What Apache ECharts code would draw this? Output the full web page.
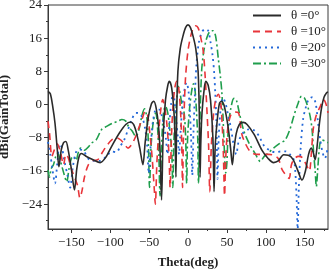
<!DOCTYPE html>
<html>
<head>
    <meta charset="UTF-8">
    <script type="text/javascript" src="https://cdn.jsdelivr.net/npm/echarts@6/dist/echarts.min.js"></script>
    <title>Gain pattern</title>
    <style>
        html, body { margin: 0; padding: 0; background: #fff; }
        #chart { width: 330px; height: 271px; }
    </style>
</head>
<body>
    <div id="chart"></div>
    <script type="text/javascript">
    // theta = 0 deg
    var theta0 = [-180,-177,-174,-171,-168,-166,-163,-160,-157,-154,-150,-146,-143,-140,-137,-130,-122,-113,-106,-98,-88,-80,-74,-70,-66,-62,-58,-55,-51,-47,-44,-41,-38,-36,-34,-32,-29,-26,-24,-21,-18,-16.5,-15.5,-14.5,-13,-10,-6.5,-3,0,3,6.5,10,13,14.5,15.5,16.5,18,21,23,26,29,32,33.5,35,38,40.5,43,46,49,52,55,57,59,62,66,71,76,85,95,103,110,116,123,129,135,141,146.5,151,155,158.5,161,163.5,166,169,172,175,178,180];
    var gain0 = [3.2,2.6,-0.4,-4.5,-11,-15,-11,-9.2,-8.9,-11,-15.5,-20.6,-15.5,-12.5,-11.8,-12.6,-13.3,-14,-12.8,-10,-6.8,-4.8,-4.2,-4.8,-7,-10.5,-14.5,-9,-3,0.2,0.8,-0.8,-5,-11,-23,-8,1,4.6,5.6,4,-2,-9,-17.5,-2,8,13.5,16.5,18.6,19.2,18.6,16.5,13.5,8,-2,-17.5,-9,-2,4,5.6,4.6,1,-8,-21,-10,-3,0.3,0.8,0,-2.5,-6,-11,-14.5,-11,-7,-4.8,-4.3,-4.8,-7.2,-11,-13,-14,-13.6,-12.1,-12.2,-13.2,-15.8,-18.2,-16,-12,-10.5,-11.5,-13.3,-10,-4.5,-0.5,1.8,2.8,3];

    // theta = 10 deg
    var theta10 = [-180,-178,-175,-172,-168,-164,-160,-157,-154,-150,-146,-142,-139,-136.5,-133,-128,-122,-116,-110,-104,-98,-92,-86,-81,-77,-73,-68,-63,-59,-55,-52,-49,-46,-43.5,-42,-40,-37,-34.5,-32.5,-30,-27,-24.5,-23,-21.5,-19.5,-17,-14.5,-12,-9.5,-8,-7,-6,-4.5,-3,0,3.5,7,10,13,16,19.5,22,24.5,26.5,28,30,33,36,39,42,44,45.5,47,48.5,51,55,60,65,69,74,80,88,96,104,110,116,121,126,130,133,137,142,147,152,156,158.5,161,165,170,174,177,180];
    var gain10 = [-4,-7,-12.5,-11,-9.5,-11.5,-14.5,-12,-12.8,-15.5,-17.5,-19.5,-22.5,-21,-17.4,-14.5,-13.5,-13.3,-11.5,-9.8,-8.5,-8,-8.6,-9.8,-10.5,-9.8,-8,-5.5,-3.5,-1.6,-2.5,-7,-13,-20,-24,-14,-5,-0.5,1.2,-0.5,-5,-12,-20,-9,-1,4,5.6,4,-2,-10,-20,-9,1,7,13,16.5,18.6,19,18.5,16.5,13,7,-2,-10,-21,-10,-2,1.5,2.5,0.5,-5,-12,-22,-13,-6,-2.5,-1.8,-2,-7,-9.5,-11.3,-12,-12,-12,-12.2,-13,-15.7,-17,-17.8,-14.5,-13,-12.5,-12.8,-14.5,-16,-12,-6,-2.5,-0.5,1.2,0.4,-2];

    // theta = 20 deg
    var theta20 = [-180,-177,-174,-171,-168,-165,-162,-159,-155,-151.5,-148,-144,-140,-134,-127,-120,-113,-105,-98,-92,-87,-82,-77,-72,-67,-62,-58,-55,-52.5,-50.5,-48,-45,-41,-37,-34,-31,-28.5,-26.5,-24,-21.5,-19,-17,-15,-13,-11.5,-10,-7.5,-5,-2,0.5,2.5,4,5.5,7,9,11,14,18,22,26,29,31.5,33.5,35,36.5,38,39.5,42,45,48,51,55,59,62,65,70,78,85,91,98,105,112,120,126,131,135,137.5,139.5,141,142.5,145,148,151,155,160,164,167,170,173,176,178,180];
    var gain20 = [-9,-12,-16,-19,-14,-9.5,-10.5,-13.5,-17,-20,-15,-11.5,-10.8,-11.3,-13.3,-13.6,-13.6,-12.5,-11.3,-11.5,-10,-8.5,-6,-3.5,-2,-2.2,-3.5,-6,-10,-16.6,-10,-4,-1.2,-1.2,-2.5,-5,-8,-12,-5,0.5,2.8,0.5,-4,-8,-12,-7.8,-1,3,5.3,3.5,-2,-8,-17,-7,3,10,15,17.5,18.2,17.8,15,12,8,3,-4,-18,-8,-1,1.6,0.5,-2,-5.5,-10,-12,-9,-7,-6,-6.2,-7.5,-10,-11,-11.5,-11.3,-11.3,-12,-12.8,-15,-22,-30,-20,-10,-3.5,-1,1.2,1.8,0.4,-4,-8.5,-11.5,-13,-12,-10];

    // theta = 30 deg
    var theta30 = [-180,-178,-176,-173,-170,-167.5,-165,-162,-159,-156,-153,-150,-147,-144,-141,-138,-133,-128,-124,-118,-111,-104,-97,-90,-85,-80,-76,-72,-67,-63,-59,-56,-53,-51,-49.5,-47.5,-44.5,-41.5,-39,-37.5,-36,-34,-31.5,-29,-26,-23.5,-21,-19.5,-18,-15,-12.5,-10,-7.5,-5,-3,-1.7,-0.5,2,4.5,7,9,11,12.5,13.5,15,17.5,20,24,28,32,35.5,39,41.5,43.5,45,46.5,48.5,50,52,55,59,62,66,72,79,86,93,98,103,110,117,125,131,136,141,146,150,154,157,159.5,161.5,163.5,165,167,169.5,172,176,180];
    var gain30 = [-15.8,-17.5,-15.5,-14.5,-12.5,-11.7,-13,-15,-17,-18.6,-15.5,-13,-12.5,-13.5,-11.5,-10.5,-11,-10.2,-9.3,-8.5,-6,-5.2,-4.5,-4,-3.6,-4,-5.5,-6.3,-7.7,-6,-2.5,-1,-3,-9,-20,-10,-4,-2,-6,-12,-22,-10,-2,-0.4,-2,-6,-11,-20,-8,0,4.4,2.5,-0.5,-2,-8,-19,-8,-1,3,5,3.5,-2,-8,-19,-6,8,12.5,16,17.6,17.8,16.5,11,7,3,-2.8,-10,-16.5,-14,-5,-1,1.5,1.2,-2,-6.5,-9.5,-11.7,-13.7,-12.5,-11.7,-10.5,-9.5,-8.5,-6,-2.8,0,2,1.5,-0.5,-2.8,-6,-11.5,-16,-19.8,-15,-9.5,-8.5,-8.8,-9.2];

    var seriesNames = ['θ =0°', 'θ =10°', 'θ =20°', 'θ =30°'];
    var yTicks = [-24, -16, -8, 0, 8, 16, 24];
    var yMinorTicks = [-28, -20, -12, -4, 4, 12, 20];
    var xTicks = [-150, -100, -50, 0, 50, 100, 150];
    var xMinorTicks = [-175, -125, -75, -25, 25, 75, 125, 175];

    function pairs(xs, ys) {
        var out = [];
        for (var i = 0; i < xs.length; i++) {
            out.push([xs[i], ys[i]]);
        }
        return out;
    }

    function minus(v) {
        return String(v).replace('-', '\u2212');
    }

    var font = '"Liberation Serif", "Times New Roman", serif';
    var axisColor = '#3a3a3a';

    var chart = echarts.init(document.getElementById('chart'), null, { renderer: 'canvas' });

    var option = {
        animation: false,
        grid: {
            left: 48,
            right: 2,
            top: 5,
            bottom: 42,
            outerBoundsMode: 'none',
            containLabel: false,
            show: true,
            borderColor: axisColor,
            borderWidth: 1
        },
        legend: {
            orient: 'vertical',
            left: 252,
            top: 9,
            padding: 0,
            itemWidth: 28,
            itemHeight: 12,
            itemGap: 3,
            itemStyle: { opacity: 0 },
            textStyle: {
                fontFamily: font,
                fontSize: 13,
                color: '#222',
                padding: [0, 0, 0, 5]
            },
            data: seriesNames
        },
        xAxis: [{
            type: 'value',
            min: -180,
            max: 180,
            name: 'Theta(deg)',
            nameLocation: 'middle',
            nameGap: 27,
            nameTextStyle: {
                fontFamily: font,
                fontSize: 13,
                fontWeight: 'bold',
                color: '#222'
            },
            axisLine: { show: true, onZero: false, lineStyle: { color: axisColor, width: 1 } },
            axisTick: { show: true, length: 4, customValues: xTicks, lineStyle: { color: axisColor } },
            axisLabel: {
                customValues: xTicks,
                margin: 7,
                fontFamily: font,
                fontSize: 13,
                color: '#222',
                formatter: minus
            },
            splitLine: { show: false }
        }, {
            type: 'value',
            min: -180,
            max: 180,
            position: 'bottom',
            axisLine: { show: false, onZero: false },
            axisTick: { show: true, length: 2, customValues: xMinorTicks, lineStyle: { color: axisColor } },
            axisLabel: { show: false },
            splitLine: { show: false }
        }],
        yAxis: [{
            type: 'value',
            min: -30,
            max: 24,
            name: 'dBi(GainTotal)',
            nameLocation: 'middle',
            nameGap: 34,
            nameTextStyle: {
                fontFamily: font,
                fontSize: 13,
                fontWeight: 'bold',
                color: '#222'
            },
            axisLine: { show: true, onZero: false, lineStyle: { color: axisColor, width: 1 } },
            axisTick: { show: true, length: 4, customValues: yTicks, lineStyle: { color: axisColor } },
            axisLabel: {
                customValues: yTicks,
                margin: 6,
                fontFamily: font,
                fontSize: 13,
                color: '#222',
                formatter: minus
            },
            splitLine: { show: false }
        }, {
            type: 'value',
            min: -30,
            max: 24,
            position: 'left',
            axisLine: { show: false, onZero: false },
            axisTick: { show: true, length: 2, customValues: yMinorTicks, lineStyle: { color: axisColor } },
            axisLabel: { show: false },
            splitLine: { show: false }
        }],
        series: [{
            name: seriesNames[0],
            type: 'line',
            symbol: 'none',
            smooth: 0.3,
            lineStyle: { color: '#2b2b2b', width: 1.6, type: 'solid' },
            itemStyle: { color: '#2b2b2b' },
            data: pairs(theta0, gain0),
            z: 5
        }, {
            name: seriesNames[1],
            type: 'line',
            symbol: 'none',
            smooth: 0.3,
            lineStyle: { color: '#e8353a', width: 1.6, type: [7, 5] },
            itemStyle: { color: '#e8353a' },
            data: pairs(theta10, gain10),
            z: 4
        }, {
            name: seriesNames[2],
            type: 'line',
            symbol: 'none',
            smooth: 0.3,
            lineStyle: { color: '#2468d8', width: 1.8, type: [2, 4] },
            itemStyle: { color: '#2468d8' },
            data: pairs(theta20, gain20),
            z: 3
        }, {
            name: seriesNames[3],
            type: 'line',
            symbol: 'none',
            smooth: 0.3,
            lineStyle: { color: '#1f9e4c', width: 1.6, type: [8, 3, 2, 3] },
            itemStyle: { color: '#1f9e4c' },
            data: pairs(theta30, gain30),
            z: 2
        }]
    };
    chart.setOption(option);
    </script>
</body>
</html>
